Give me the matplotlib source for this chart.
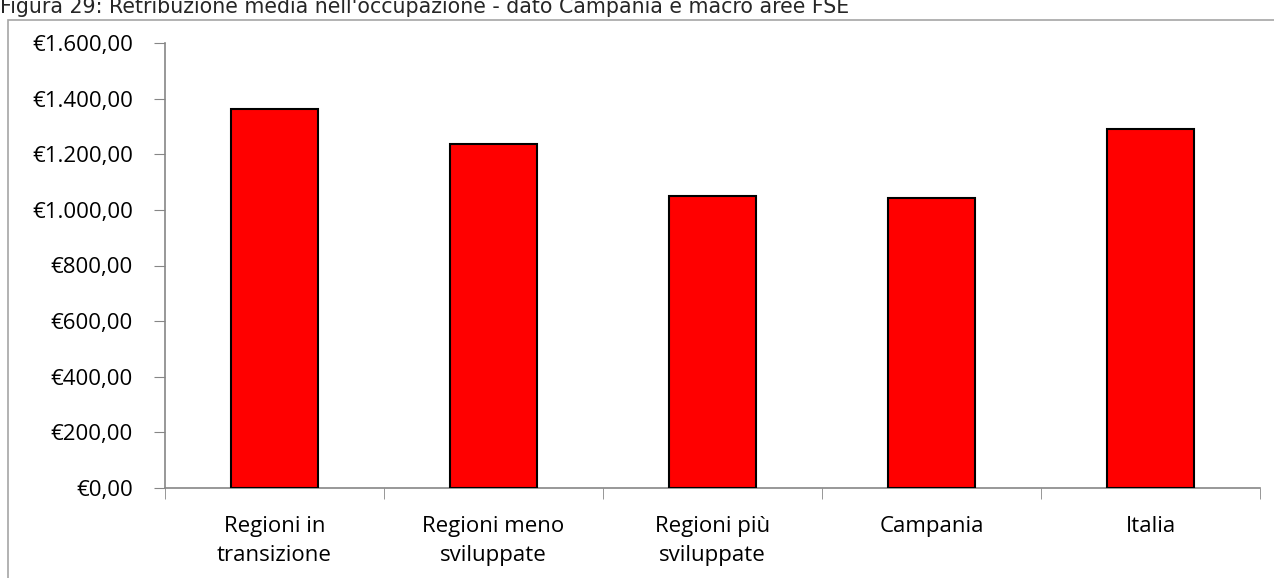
import matplotlib.pyplot as plt
from matplotlib.patches import Rectangle
from matplotlib.ticker import FuncFormatter, FixedLocator
import numpy as np

# data
categorie = ["Regioni in\ntransizione", "Regioni meno\nsviluppate", "Regioni più\nsviluppate", "Campania", "Italia"]
retribuzione = [1364, 1237, 1050, 1041, 1291]
titolo = "Figura 29: Retribuzione media nell'occupazione - dato Campania e macro aree FSE"

plt.rcParams['font.family'] = ['Open Sans', 'DejaVu Sans']

fig = plt.figure(figsize=(12.74, 5.78), dpi=100)
ax = fig.add_axes([165/1274, 1 - 488/578, (1260 - 165)/1274, (488 - 43)/578])

x = np.arange(len(categorie))
ax.bar(x, retribuzione, width=0.4, color="#ff0000", edgecolor="black", linewidth=1.5, zorder=3)

ax.set_xlim(-0.5, len(categorie) - 0.5)
ax.set_ylim(0, 1600)
ax.set_yticks(np.arange(0, 1601, 200))


def euro(v, pos):
    s = f"{v:,.2f}".replace(",", "X").replace(".", ",").replace("X", ".")
    return "€" + s


ax.yaxis.set_major_formatter(FuncFormatter(euro))
ax.set_xticks(x)
ax.set_xticklabels(categorie, linespacing=1.5)
ax.xaxis.set_minor_locator(FixedLocator(np.arange(-0.5, len(categorie), 1.0)))

for s in ["top", "right"]:
    ax.spines[s].set_visible(False)
for s in ["left", "bottom"]:
    ax.spines[s].set_color("#868686")
    ax.spines[s].set_linewidth(1.2)

ax.tick_params(axis="y", length=8, color="#868686", labelsize=16, pad=15)
ax.tick_params(axis="x", which="major", length=0, labelsize=16, pad=20)
ax.tick_params(axis="x", which="minor", length=8, color="#868686", direction="out")

# chart border
fig.patches.append(Rectangle((8/1274, -0.1), 1.2, 1 - 20/578 + 0.1, transform=fig.transFigure,
                             fill=False, edgecolor="#a6a6a6", linewidth=1.2))

fig.text(0, 1 - 13/578, titolo, fontsize=14.8, family=['DejaVu Sans'], va="baseline", ha="left",
         color="#262626")

fig.savefig("out.png", dpi=100)
